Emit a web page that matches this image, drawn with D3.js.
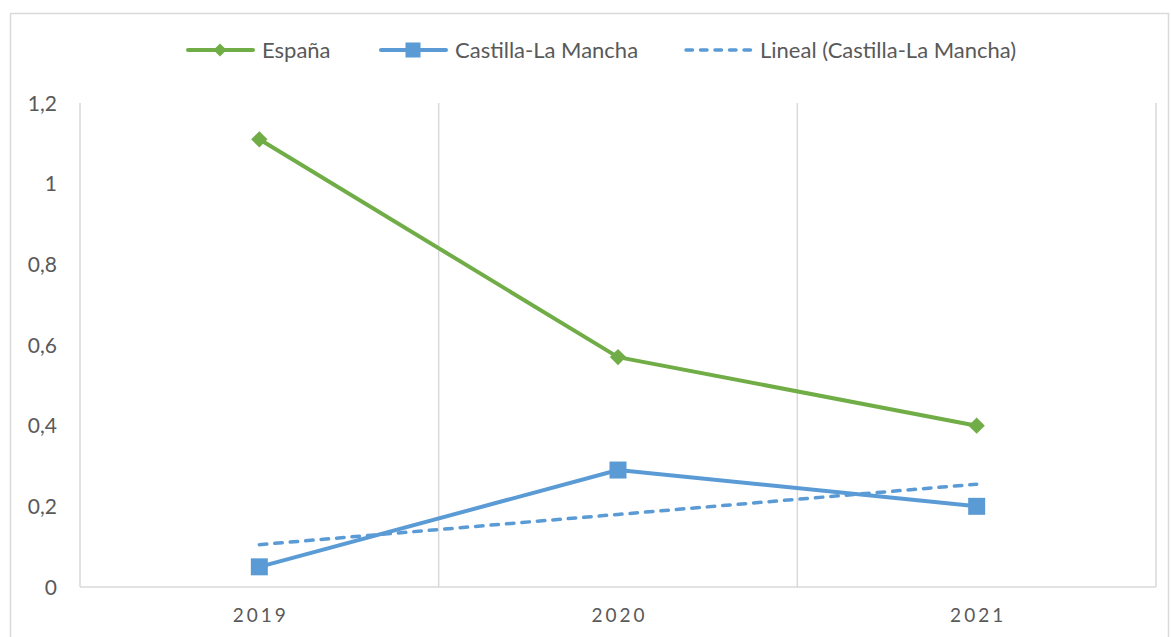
<!DOCTYPE html>
<html>
<head>
<meta charset="utf-8">
<script src="https://cdn.jsdelivr.net/npm/d3@7"></script>
<style>
  html, body { margin: 0; padding: 0; background: #fff; }
  svg text { font-family: Lato, "Open Sans", sans-serif; fill: #595959; }
</style>
</head>
<body>
<svg id="chart" width="1171" height="637"></svg>
<script>
// Years on the category axis
const years = ["2019", "2020", "2021"];
// Series values
const espana = [1.11, 0.57, 0.40];
const castillaLaMancha = [0.05, 0.29, 0.20];
// Linear trend of Castilla-La Mancha
const linealCLM = [0.105, 0.18, 0.255];
// Value axis ticks
const yTicks = [0, 0.2, 0.4, 0.6, 0.8, 1, 1.2];

const green = "#70AD47", blue = "#5B9BD5", grid = "#D9D9D9";
const dash = "7.5,8";

const svg = d3.select("#chart");

// Outer chart frame
svg.append("rect")
  .attr("x", 10.5).attr("y", 13.5)
  .attr("width", 1158).attr("height", 640)
  .attr("fill", "none").attr("stroke", grid).attr("stroke-width", 1.5);

const plot = { left: 80, right: 1156, top: 103, bottom: 587 };

const x = d3.scaleBand().domain(years).range([plot.left, plot.right]).padding(0);
const y = d3.scaleLinear().domain([0, 1.2]).range([plot.bottom, plot.top]);
const cx = d => x(d) + x.bandwidth() / 2;

// Vertical category separators
const seps = years.map(d => x(d)).concat([plot.right]);
svg.append("g").selectAll("line").data(seps).join("line")
  .attr("x1", d => d).attr("x2", d => d)
  .attr("y1", plot.top).attr("y2", plot.bottom)
  .attr("stroke", grid).attr("stroke-width", 1.5);

// Horizontal axis line
svg.append("line")
  .attr("x1", plot.left).attr("x2", plot.right)
  .attr("y1", plot.bottom).attr("y2", plot.bottom)
  .attr("stroke", grid).attr("stroke-width", 1.5);

// Value axis labels (decimal comma)
const fmt = v => String(+v.toFixed(1)).replace(".", ",");
svg.append("g").selectAll("text").data(yTicks).join("text")
  .attr("x", 57).attr("y", d => y(d))
  .attr("dy", "0.36em")
  .attr("text-anchor", "end")
  .attr("font-size", 21)
  .text(fmt);

// Category labels
svg.append("g").selectAll("text").data(years).join("text")
  .attr("x", d => cx(d) + 1.5).attr("y", 622)
  .attr("text-anchor", "middle")
  .attr("font-size", 19)
  .attr("letter-spacing", 3)
  .text(d => d);

const line = d3.line().x((d, i) => cx(years[i])).y(d => y(d));

// Trend line
svg.append("path").datum(linealCLM)
  .attr("d", line)
  .attr("fill", "none").attr("stroke", blue).attr("stroke-width", 3.5)
  .attr("stroke-dasharray", dash).attr("stroke-linecap", "round");

// Castilla-La Mancha
svg.append("path").datum(castillaLaMancha)
  .attr("d", line)
  .attr("fill", "none").attr("stroke", blue).attr("stroke-width", 4)
  .attr("stroke-linejoin", "round");
svg.append("g").selectAll("rect").data(castillaLaMancha).join("rect")
  .attr("x", (d, i) => cx(years[i]) - 8.5).attr("y", d => y(d) - 8.5)
  .attr("width", 17).attr("height", 17).attr("fill", blue);

// España
svg.append("path").datum(espana)
  .attr("d", line)
  .attr("fill", "none").attr("stroke", green).attr("stroke-width", 4)
  .attr("stroke-linejoin", "round");
const diamond = d3.symbol().type(d3.symbolDiamond2).size(170);
svg.append("g").selectAll("path").data(espana).join("path")
  .attr("transform", (d, i) => `translate(${cx(years[i])},${y(d)})`)
  .attr("d", diamond).attr("fill", green);

// Legend
const legend = [
  { name: "España", color: green, marker: "diamond", x: 186 },
  { name: "Castilla-La Mancha", color: blue, marker: "square", x: 379 },
  { name: "Lineal (Castilla-La Mancha)", color: blue, marker: "dash", x: 684 }
];
const ly = 50;
const lg = svg.append("g").selectAll("g").data(legend).join("g");
lg.append("line")
  .attr("x1", d => d.x + 2).attr("x2", d => d.x + 67)
  .attr("y1", ly).attr("y2", ly)
  .attr("stroke", d => d.color).attr("stroke-width", d => d.marker === "dash" ? 3.5 : 4)
  .attr("stroke-linecap", "round")
  .attr("stroke-dasharray", d => d.marker === "dash" ? "6.5,8" : null);
lg.filter(d => d.marker === "diamond").append("path")
  .attr("transform", d => `translate(${d.x + 34},${ly})`)
  .attr("d", d3.symbol().type(d3.symbolDiamond2).size(110)).attr("fill", d => d.color);
lg.filter(d => d.marker === "square").append("rect")
  .attr("x", d => d.x + 34 - 7.5).attr("y", ly - 7.5)
  .attr("width", 15).attr("height", 15).attr("fill", d => d.color);
lg.append("text")
  .attr("x", d => d.x + 76).attr("y", ly).attr("dy", "0.36em")
  .attr("font-size", 22)
  .text(d => d.name);
</script>
</body>
</html>
